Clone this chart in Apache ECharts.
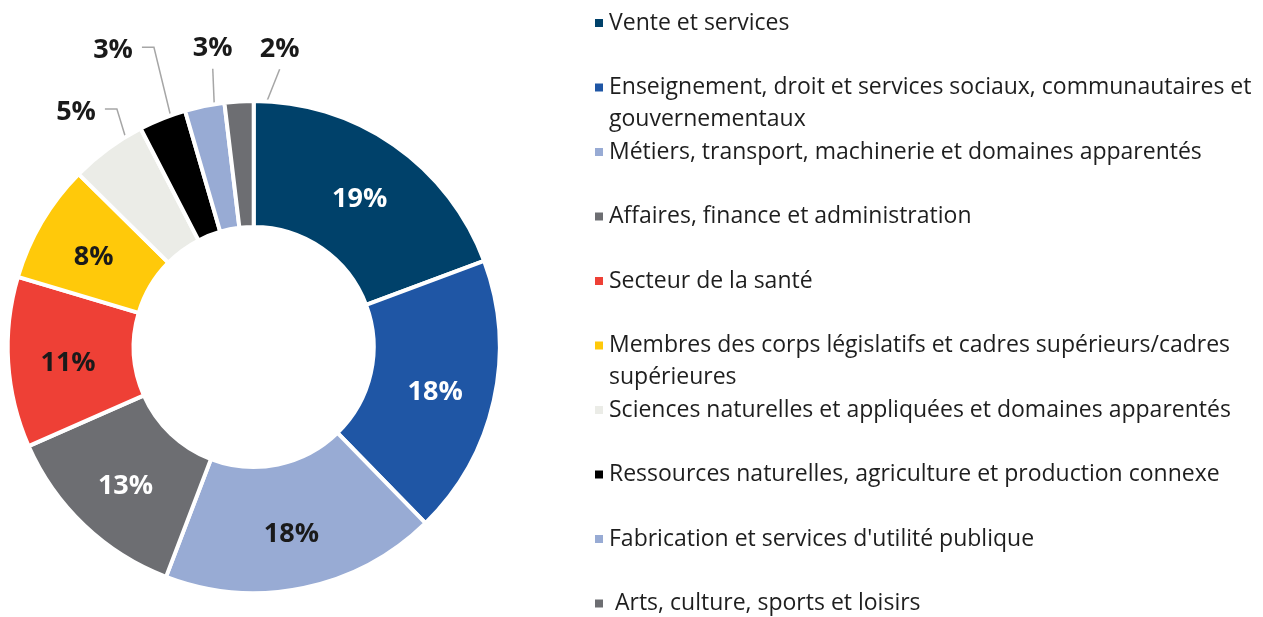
<!DOCTYPE html>
<html>
<head>
<meta charset="utf-8">
<script src="https://cdn.jsdelivr.net/npm/echarts@6/dist/echarts.min.js"></script>
<style>
  html, body { margin: 0; padding: 0; background: #fff; }
  #chart { width: 1263px; height: 617px; }
</style>
</head>
<body>
<div id="chart"></div>
<script>
// ---- data ----
const categories = [
  'Vente et services',
  'Enseignement, droit et services sociaux, communautaires et gouvernementaux',
  'Métiers, transport, machinerie et domaines apparentés',
  'Affaires, finance et administration',
  'Secteur de la santé',
  'Membres des corps législatifs et cadres supérieurs/cadres supérieures',
  'Sciences naturelles et appliquées et domaines apparentés',
  'Ressources naturelles, agriculture et production connexe',
  "Fabrication et services d'utilité publique",
  'Arts, culture, sports et loisirs'
];
// shares (%); labels show them rounded
const shares = [19.3, 18.4, 18.1, 12.6, 11.2, 7.8, 5.0, 3.1, 2.6, 1.9];
// legend text as printed (line breaks where the original wraps)
const legendLabels = [
  'Vente et services',
  'Enseignement, droit et services sociaux, communautaires et\ngouvernementaux',
  'Métiers, transport, machinerie et domaines apparentés',
  'Affaires, finance et administration',
  'Secteur de la santé',
  'Membres des corps législatifs et cadres supérieurs/cadres\nsupérieures',
  'Sciences naturelles et appliquées et domaines apparentés',
  'Ressources naturelles, agriculture et production connexe',
  "Fabrication et services d'utilité publique",
  ' Arts, culture, sports et loisirs'
];

// ---- styles ----
const sliceColors = ['#00416a', '#1f56a5', '#98abd4', '#6d6e72', '#ee4036',
                     '#ffc90a', '#ebece7', '#000000', '#98abd4', '#6d6e72'];
const labelColors = ['#fff', '#fff', '#1a1a1a', '#fff', '#1a1a1a',
                     '#1a1a1a', '#1a1a1a', '#1a1a1a', '#1a1a1a', '#1a1a1a'];
// small slices get an outside label; offsets are from the leader line anchor
const outerLabels = [null, null, null, null, null, null,
  { dx: -68, dy: -86, line: 'side' },
  { dx: -72, dy: -125, line: 'side' },
  { dx: -4, dy: -117, line: 'below' },
  { dx: 37, dy: -113, line: 'below' }];
const FONT = '"Open Sans", sans-serif';
const outerR = 246, innerR = 120;
const anchorDepth = 61;   // leader lines start inside the ring
const innerLabelDrop = 5; // the original's font sits a little lower
const legendTop = 23, legendStep = 64.5, legendLine = 32;

const el = document.getElementById('chart');
const chart = echarts.init(el, null, { renderer: 'canvas' });

const data = categories.map((name, i) => {
  const outer = !!outerLabels[i];
  return {
    name,
    value: shares[i],
    itemStyle: { color: sliceColors[i] },
    label: {
      position: outer ? 'outside' : 'inside',
      color: labelColors[i]
    },
    labelLine: { show: outer, length: 10, length2: 0 }
  };
});

const legends = categories.map((name, i) => {
  const wrapped = legendLabels[i].indexOf('\n') >= 0;
  const cy = legendTop + i * legendStep;
  return {
    data: [name],
    orient: 'vertical',
    left: 593,
    top: cy - (wrapped ? legendLine * 1.5 : legendLine / 2),
    padding: 0,
    icon: 'rect',
    itemWidth: 10,
    itemHeight: 10,
    selectedMode: false,
    // a blank first line keeps the marker level with the first text line
    formatter: () => (wrapped ? ' \n' : '') + legendLabels[i],
    textStyle: {
      fontFamily: FONT,
      fontSize: 23,
      lineHeight: legendLine,
      color: '#1e1e1e'
    }
  };
});

chart.setOption({
  animation: false,
  backgroundColor: '#fff',
  legend: legends,
  series: [{
    type: 'pie',
    center: [253.7, 347],
    radius: [innerR, outerR],
    startAngle: 90,
    clockwise: true,
    avoidLabelOverlap: false,
    silent: true,
    itemStyle: { borderColor: '#fff', borderWidth: 4 },
    label: {
      show: true,
      formatter: p => Math.round(p.value) + '%',
      fontFamily: FONT,
      fontSize: 27,
      fontWeight: 'bold'
    },
    labelLine: {
      lineStyle: { color: '#a6a6a6', width: 1.5 }
    },
    labelLayout: function (p) {
      const cfg = outerLabels[p.dataIndex];
      const r = p.labelRect;
      if (!cfg || !p.labelLinePoints) {
        return {
          x: r.x + r.width / 2,
          y: r.y + r.height / 2 + innerLabelDrop,
          align: 'center',
          verticalAlign: 'middle'
        };
      }
      const p0 = p.labelLinePoints[0], p1 = p.labelLinePoints[1];
      const len = Math.hypot(p1[0] - p0[0], p1[1] - p0[1]) || 1;
      const ux = (p1[0] - p0[0]) / len, uy = (p1[1] - p0[1]) / len;
      const a = [p0[0] - ux * anchorDepth, p0[1] - uy * anchorDepth];
      const x = a[0] + cfg.dx, y = a[1] + cfg.dy;
      let pts;
      if (cfg.line === 'side') {
        const ex = x + r.width / 2 + 9;
        pts = [a, [ex + 12, y - 3], [ex, y - 3]];
      } else {
        pts = [a, [x, y + 20], [x, y + 20]];
      }
      return { x, y, align: 'center', verticalAlign: 'middle', labelLinePoints: pts };
    },
    data
  }]
});

window.addEventListener('resize', () => { try { chart.resize(); } catch (e) {} }, { passive: true });
</script>
</body>
</html>
